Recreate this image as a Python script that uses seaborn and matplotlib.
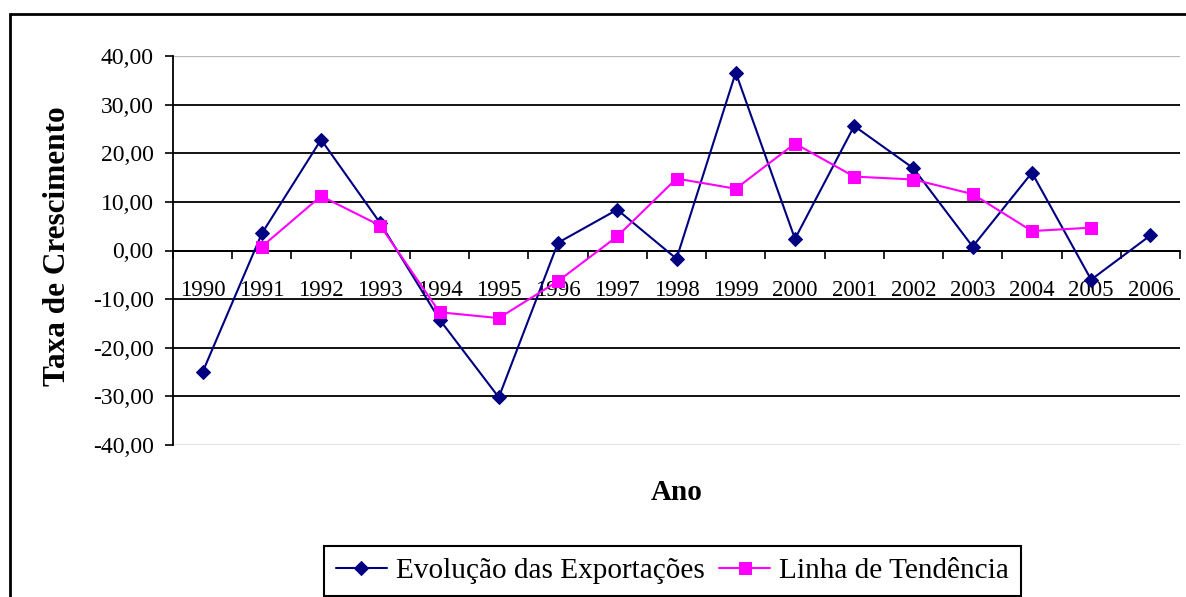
import numpy as np
import pandas as pd
import matplotlib
matplotlib.use("Agg")
import matplotlib.pyplot as plt
import matplotlib.patches as mpatches
import seaborn as sns

# data
years = [1990, 1991, 1992, 1993, 1994, 1995, 1996, 1997, 1998,
         1999, 2000, 2001, 2002, 2003, 2004, 2005, 2006]
exportacoes = [-25.0, 3.5, 22.8, 5.6, -14.2, -30.2, 1.6, 8.4, -1.7,
               36.6, 2.4, 25.6, 16.9, 0.8, 16.0, -6.0, 3.1]
tendencia = [np.nan, 0.8, 11.2, 5.1, -12.7, -13.9, -6.3, 2.9, 14.8,
             12.7, 22.0, 15.2, 14.6, 11.6, 4.0, 4.7, np.nan]
y_ticks = [-40, -30, -20, -10, 0, 10, 20, 30, 40]
y_tick_labels = [f"{v:.2f}".replace(".", ",") for v in y_ticks]
x_tick_labels = [str(y) for y in years]

label_exp = "Evolução das Exportações"
label_tend = "Linha de Tendência"

df = pd.DataFrame({"Ano": years, "Exportacoes": exportacoes, "Tendencia": tendencia})

sns.set_theme(style="white", rc={
    "text.color": "black",
    "axes.labelcolor": "black",
    "xtick.color": "black",
    "ytick.color": "black",
})
plt.rcParams["font.family"] = ["Liberation Serif", "DejaVu Serif"]

W, H = 1186, 597
fig, ax = plt.subplots(figsize=(W / 100, H / 100), dpi=100)
fig.subplots_adjust(left=173 / W, right=1180 / W, top=1 - 56 / H, bottom=1 - 445 / H)

sns.lineplot(data=df, x="Ano", y="Exportacoes", ax=ax, color="#000080",
             marker="D", markersize=7.5, markeredgecolor="#000080",
             linewidth=1.5, label=label_exp, zorder=3)
sns.lineplot(data=df, x="Ano", y="Tendencia", ax=ax, color="#FF00FF",
             marker="s", markersize=8.5, markeredgecolor="#FF00FF",
             linewidth=1.5, label=label_tend, zorder=3)

ax.set_xlim(years[0] - 0.5, years[-1] + 0.5)
ax.set_ylim(y_ticks[0], y_ticks[-1])

ax.set_yticks(y_ticks, labels=y_tick_labels)
ax.set_xticks(years, labels=x_tick_labels)
ax.set_xticks(np.arange(years[0] - 0.5, years[-1] + 1, 1), minor=True)
ax.tick_params(axis="x", which="major", length=0, pad=21, labelsize=16.5, bottom=True)
ax.tick_params(axis="x", which="minor", length=6, width=1.2, direction="out", bottom=True)
ax.tick_params(axis="y", which="major", length=6, width=1.2, direction="out",
               pad=8, labelsize=17, left=True)

# category axis crosses at zero
ax.spines["bottom"].set_position(("data", 0))
ax.spines["bottom"].set_color("black")
ax.spines["bottom"].set_linewidth(1.3)
ax.spines["left"].set_color("black")
ax.spines["left"].set_linewidth(1.3)
ax.spines["right"].set_visible(False)
ax.spines["top"].set_visible(False)

ax.yaxis.grid(True, color="black", linewidth=1.3)
ax.xaxis.grid(False)
glines = ax.get_ygridlines()
glines[0].set_color("#e0e0e0")
glines[-1].set_color("#b8b8b8")
glines[-1].set_linewidth(1.6)

ax.set_xlabel("Ano", fontsize=21, fontweight="bold", va="center")
ax.xaxis.set_label_coords(0.5, (445 - 493) / 389)
ax.set_ylabel("Taxa de Crescimento", fontsize=22.5, fontweight="bold", va="center")
ax.yaxis.set_label_coords((58 - 173) / 1007, (445 - 246) / 389)

leg = ax.legend(loc="lower left", bbox_to_anchor=(324 / W, 1 / H),
                bbox_transform=fig.transFigure, ncol=2, frameon=True,
                fancybox=False, framealpha=1, edgecolor="black", fontsize=21.1,
                handlelength=1.75, handletextpad=0.3, columnspacing=0.5,
                borderpad=0.4, borderaxespad=0)
leg.get_frame().set_linewidth(1.5)

# chart area frame (only top and left edges visible in the crop)
fig.patches.append(mpatches.Rectangle((10 / W, -0.2), 1.2, 0.2 + 1 - 14 / H,
                                      transform=fig.transFigure, fill=False,
                                      edgecolor="black", linewidth=2, clip_on=False))

fig.savefig("out.png", dpi=100)
